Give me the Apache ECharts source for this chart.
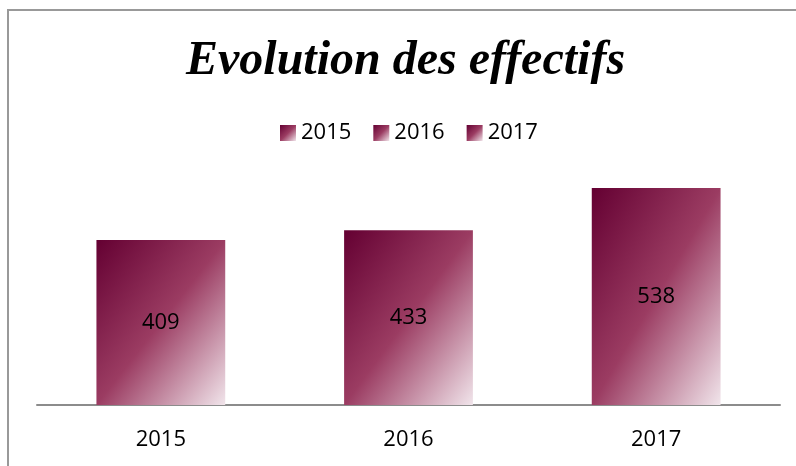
<!DOCTYPE html>
<html>
<head>
<meta charset="utf-8">
<script src="https://cdn.jsdelivr.net/npm/echarts@6/dist/echarts.min.js"></script>
<style>
  html, body { margin: 0; padding: 0; background: #fff; }
  #main { width: 796px; height: 466px; }
</style>
</head>
<body>
<div id="main"></div>
<script>
// données
var categories = ['2015', '2016', '2017'];
var effectifs = [409, 433, 538];
var yMax = 600;

// dégradé : foncé en haut à gauche, clair en bas à droite
var stops = [
    { offset: 0, color: '#640032' },
    { offset: 0.5, color: '#9b3c62' },
    { offset: 1, color: '#f1e5eb' }
];
var labelFont = 'Open Sans';

var chart = echarts.init(document.getElementById('main'));

function buildSeries(colors) {
    return categories.map(function (name, i) {
        return {
            name: name,
            type: 'bar',
            stack: 'tout',
            barWidth: '52%',
            data: categories.map(function (c, j) { return j === i ? effectifs[i] : '-'; }),
            itemStyle: { color: colors[i] },
            label: {
                show: true,
                position: 'inside',
                color: '#000',
                fontFamily: labelFont,
                fontSize: 22
            },
            emphasis: { disabled: true }
        };
    });
}

var plain = categories.map(function () {
    return new echarts.graphic.LinearGradient(0, 0, 1, 1, stops);
});

chart.setOption({
    backgroundColor: '#fff',
    animation: false,
    title: {
        text: 'Evolution des effectifs',
        left: 186,
        top: 38,
        padding: 0,
        textStyle: {
            fontFamily: 'Liberation Serif',
            fontStyle: 'italic',
            fontWeight: 'bold',
            fontSize: 48,
            color: '#000'
        }
    },
    legend: {
        left: 280,
        top: 122,
        padding: 0,
        itemWidth: 16,
        itemHeight: 16,
        itemGap: 22,
        icon: 'rect',
        textStyle: { fontFamily: labelFont, fontSize: 22, color: '#000' },
        data: categories.map(function (c) {
            return { name: c, itemStyle: { color: new echarts.graphic.LinearGradient(0, 0, 1, 1, stops) } };
        })
    },
    grid: { left: 37, right: 16, top: 163, bottom: 61 },
    xAxis: {
        type: 'category',
        data: categories,
        axisTick: { show: false },
        axisLine: { lineStyle: { color: '#8c8c8c', width: 2 } },
        axisLabel: { fontFamily: labelFont, fontSize: 22, color: '#000', margin: 24 }
    },
    yAxis: {
        type: 'value',
        min: 0,
        max: yMax,
        show: false,
        splitLine: { show: false }
    },
    graphic: [{
        type: 'rect',
        shape: { x: 8, y: 10, width: 820, height: 500 },
        style: { fill: 'none', stroke: '#999', lineWidth: 2 },
        silent: true
    }],
    series: buildSeries(plain)
});

// recalcule le dégradé pour que les coins haut-droit et bas-gauche aient la teinte médiane
var x0 = chart.convertToPixel({ xAxisIndex: 0 }, 0);
var x1 = chart.convertToPixel({ xAxisIndex: 0 }, 1);
var w = (x1 - x0) * 0.52;
var base = chart.convertToPixel({ yAxisIndex: 0 }, 0);
var grads = effectifs.map(function (v) {
    var h = base - chart.convertToPixel({ yAxisIndex: 0 }, v);
    var s = h * h + w * w;
    return new echarts.graphic.LinearGradient(0, 0, 2 * h * h / s, 2 * w * w / s, stops);
});
chart.setOption({ series: buildSeries(grads) });
</script>
</body>
</html>
